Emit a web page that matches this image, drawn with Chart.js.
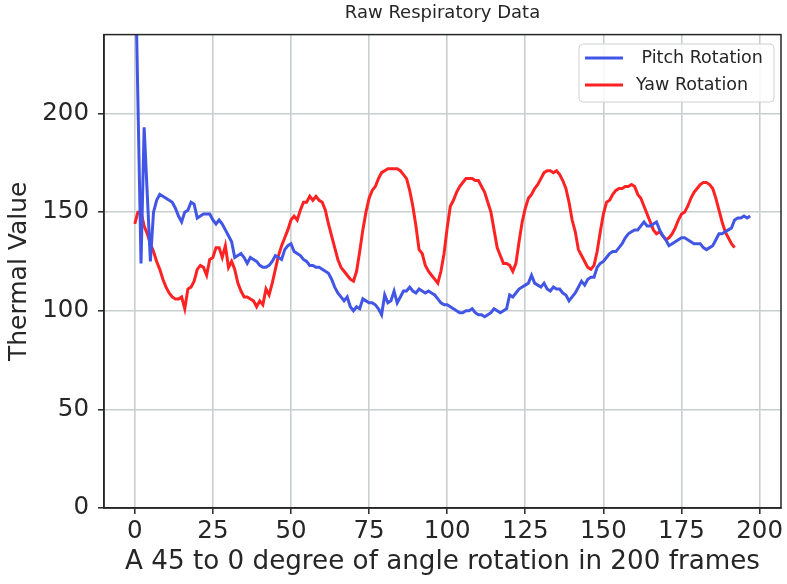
<!DOCTYPE html>
<html>
<head>
<meta charset="utf-8">
<script src="https://cdn.jsdelivr.net/npm/chart.js@4/dist/chart.umd.min.js"></script>
<style>
  body { margin: 0; background: #fff; }
  #wrap { width: 787px; height: 584px; }
</style>
</head>
<body>
<div id="wrap"><canvas id="respChart"></canvas></div>
<script>
// values, one per frame
const pitch = [
  290, 207, 124, 193, 159, 125, 150, 156, 159, 158,
  157, 156, 155, 152, 148, 145, 150, 151, 155, 154,
  147, 148, 149, 149, 149, 146, 144, 146, 144, 141,
  138, 135, 127, 128, 129, 127, 124, 127, 126, 125,
  123, 122, 122, 123, 125, 128, 127, 126, 131, 133,
  134, 130, 129, 128, 126, 125, 123, 123, 122, 122,
  121, 120, 119, 116, 112, 109, 107, 105, 107, 102,
  100, 102, 101, 106, 105, 104, 104, 103, 101, 98,
  108, 104, 105, 110, 104, 107, 110, 110, 112, 110,
  109, 111, 110, 109, 110, 109, 108, 106, 104, 103,
  103, 102, 101, 100, 99, 99, 100, 100, 101, 99,
  98, 98, 97, 98, 99, 101, 100, 99, 100, 101,
  108, 107, 109, 111, 112, 113, 114, 118, 114, 113,
  112, 114, 111, 110, 112, 111, 111, 109, 108, 105,
  107, 109, 112, 115, 113, 116, 117, 117, 122, 124,
  125, 127, 129, 130, 130, 132, 134, 137, 139, 140,
  141, 141, 143, 145, 143, 143, 144, 145, 141, 138,
  136, 133, 134, 135, 136, 137, 137, 136, 135, 134,
  134, 134, 132, 131, 132, 133, 136, 139, 139, 140,
  141, 142, 146, 147, 147, 148, 147, 148
];
const yaw = [
  144, 150, 150, 143, 139, 134, 130, 125, 121, 116,
  112, 109, 107, 106, 106, 107, 101, 111, 112, 115,
  121, 123, 122, 118, 126, 127, 132, 132, 127, 133,
  122, 125, 121, 114, 110, 107, 107, 106, 105, 102,
  105, 103, 111, 108, 114, 121, 128, 133, 137, 141,
  146, 148, 146, 151, 155, 155, 158, 156, 158, 156,
  155, 151, 144, 138, 132, 126, 122, 120, 118, 116,
  115, 120, 130, 141, 150, 157, 161, 163, 167, 170,
  171, 172, 172, 172, 172, 171, 169, 167, 161, 153,
  143, 131, 129, 123, 120, 118, 116, 114, 120, 129,
  142, 153, 156, 160, 163, 165, 167, 167, 167, 166,
  166, 163, 160, 155, 150, 141, 132, 128, 124, 124,
  123, 120, 124, 135, 145, 152, 157, 159, 162, 164,
  167, 170, 171, 171, 170, 171, 169, 166, 162, 155,
  146, 140, 131, 128, 125, 122, 121, 123, 130, 140,
  149, 155, 156, 159, 161, 162, 162, 163, 163, 164,
  163, 159, 157, 153, 149, 145, 141, 139, 140, 138,
  136, 137, 139, 142, 146, 149, 150, 153, 157, 160,
  162, 164, 165, 165, 164, 162, 157, 151, 145, 140,
  137, 134, 132
];
const seriesNames = [' Pitch Rotation', 'Yaw Rotation'];
const xTicks = [0, 25, 50, 75, 100, 125, 150, 175, 200];
const yTicks = [0, 50, 100, 150, 200];

const BLUE = '#4256e6';
const RED = '#ff2222';
const INK = '#262626';
const GRID = '#c8cfcf';

Chart.defaults.font.family = '"DejaVu Sans", sans-serif';
Chart.defaults.color = INK;

const toPoints = arr => arr.map((v, i) => ({ x: i, y: v }));

// matplotlib-style box: top/right spines plus the legend in the upper right
const framePlugin = {
  id: 'frame',
  afterDatasetsDraw(chart) {
    const { ctx, chartArea: a } = chart;
    ctx.save();
    ctx.strokeStyle = INK;
    ctx.lineWidth = 1.5;
    ctx.strokeRect(a.left, a.top, a.right - a.left, a.bottom - a.top);

    // legend
    const bx = 579, by = 44, bw = 195, bh = 58;
    ctx.beginPath();
    ctx.roundRect(bx, by, bw, bh, 4);
    ctx.fillStyle = 'rgba(255,255,255,0.85)';
    ctx.fill();
    ctx.strokeStyle = '#d0d0d0';
    ctx.lineWidth = 1;
    ctx.stroke();
    ctx.font = '17.5px "DejaVu Sans", sans-serif';
    ctx.textBaseline = 'middle';
    chart.data.datasets.forEach((ds, k) => {
      const y = by + 14 + k * 27;
      ctx.strokeStyle = ds.borderColor;
      ctx.lineWidth = 3;
      ctx.beginPath();
      ctx.moveTo(bx + 6, y);
      ctx.lineTo(bx + 44, y);
      ctx.stroke();
      ctx.fillStyle = INK;
      ctx.fillText(ds.label, bx + 57, y);
    });
    ctx.restore();
  }
};

new Chart(document.getElementById('respChart'), {
  type: 'line',
  data: {
    datasets: [
      { label: seriesNames[0], data: toPoints(pitch), borderColor: BLUE, borderWidth: 3 },
      { label: seriesNames[1], data: toPoints(yaw), borderColor: RED, borderWidth: 3 }
    ]
  },
  options: {
    responsive: true,
    maintainAspectRatio: false,
    animation: false,
    layout: { padding: { left: 0, right: 6, top: 0, bottom: 0 } },
    elements: { point: { radius: 0 }, line: { tension: 0 } },
    plugins: {
      legend: { display: false },
      tooltip: { enabled: false },
      title: {
        display: true,
        text: 'Raw Respiratory Data',
        fullSize: false,
        color: INK,
        font: { size: 18, weight: 'normal' },
        padding: { top: 3, bottom: 10 }
      }
    },
    scales: {
      x: {
        type: 'linear',
        min: -9.85,
        max: 206.85,
        afterBuildTicks: s => { s.ticks = xTicks.map(v => ({ value: v })); },
        afterFit: s => { s.height = 76; },
        grid: { color: GRID, lineWidth: 1.6, tickColor: INK, tickLength: 6, tickWidth: 1.5 },
        border: { color: INK, width: 1.5 },
        ticks: { font: { size: 24.5 }, padding: 3, color: INK, maxRotation: 0 },
        title: {
          display: true,
          text: 'A 45 to 0 degree of angle rotation in 200 frames',
          font: { size: 26.2 },
          color: INK,
          padding: { top: 0, bottom: 6 }
        }
      },
      y: {
        min: 0,
        max: 240,
        afterBuildTicks: s => { s.ticks = yTicks.map(v => ({ value: v })); },
        afterFit: s => { s.width = 104; },
        grid: { color: GRID, lineWidth: 1.6, tickColor: INK, tickLength: 6, tickWidth: 1.5 },
        border: { color: INK, width: 1.5 },
        ticks: { font: { size: 24.5 }, padding: 9, color: INK },
        title: {
          display: true,
          text: 'Thermal Value',
          font: { size: 25 },
          color: INK,
          padding: { top: 4, bottom: 0 }
        }
      }
    }
  },
  plugins: [framePlugin]
});
</script>
</body>
</html>
